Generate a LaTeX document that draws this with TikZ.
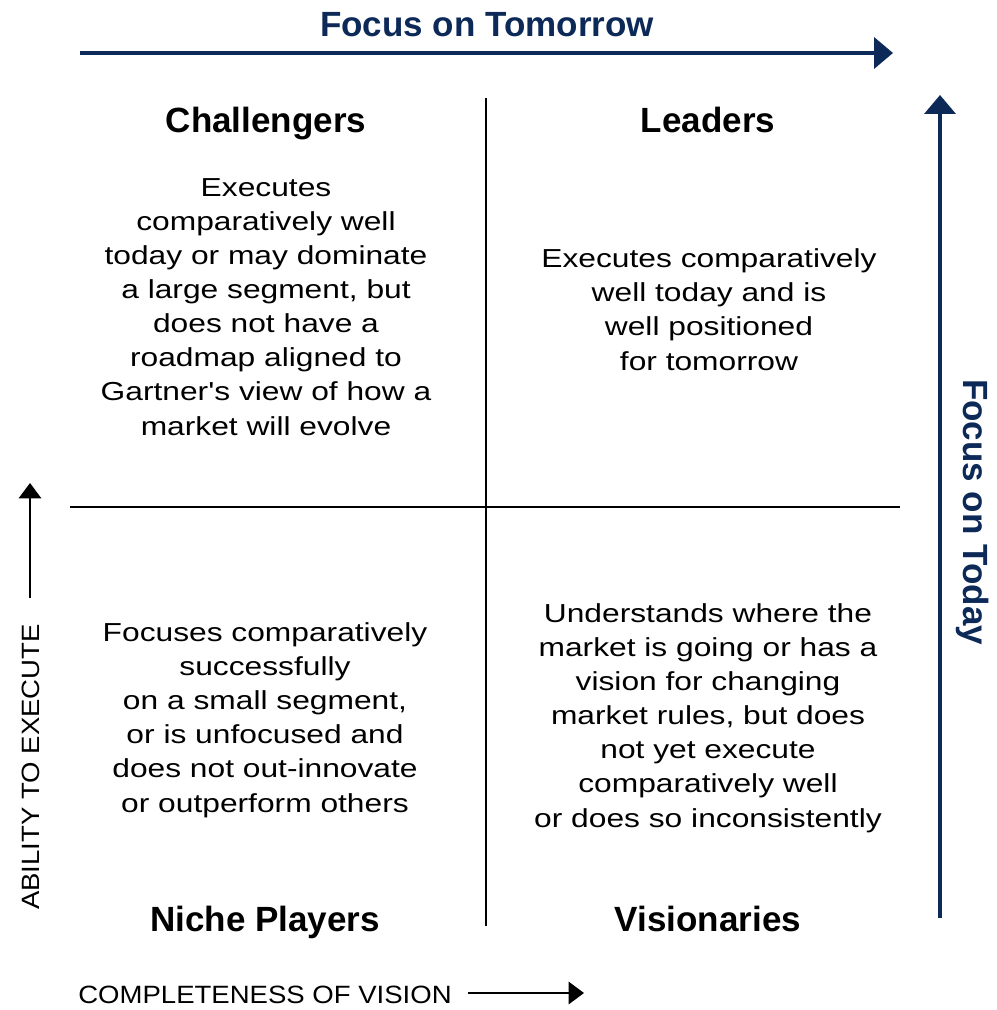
\documentclass[tikz,border=0pt]{standalone}
\usepackage{fontspec}
\setmainfont{Liberation Sans}
\newfontfamily\bodyfont[FakeStretch=1.22]{Liberation Sans}
\newfontfamily\axisfont[FakeStretch=1.1]{Liberation Sans}
\usetikzlibrary{arrows.meta}
\definecolor{navy}{RGB}{12,41,87}

\begin{document}
\begin{tikzpicture}[x=0.025cm,y=-0.025cm]
\tikzstyle{every node}+=[inner sep=0pt]
\tikzstyle{quadtitle}=[font=\fontsize{24.9}{30}\selectfont\bfseries, anchor=base]
\tikzstyle{quadtext}=[font=\bodyfont\fontsize{18.5}{24.2}\selectfont, align=center, anchor=base]
\tikzstyle{focus}=[font=\fontsize{24.9}{30}\selectfont\bfseries, text=navy, anchor=base]
\tikzstyle{axislabel}=[font=\axisfont\fontsize{17.8}{22}\selectfont, anchor=base]
\tikzstyle{navyarrow}=[navy, line width=2.85pt, -{Triangle[length=13.5pt,width=22pt]}]
\tikzstyle{blackarrow}=[black, line width=1.4pt, -{Triangle[length=11pt,width=16pt]}]
\useasboundingbox (0,0) rectangle (996,1010);
% axes
\coordinate (tomorrowS) at (80,53);
\coordinate (tomorrowE) at (893,53);
\coordinate (todayS) at (940,918);
\coordinate (todayE) at (940,95);
\coordinate (executeS) at (30,598);
\coordinate (executeE) at (30,483);
\coordinate (visionS) at (468,993);
\coordinate (visionE) at (584,993);
\node[focus] (tomorrow) at (487,37) {Focus on Tomorrow};
\node[focus, rotate=-90] (today) at (963,512) {Focus on Today};
\node[axislabel, rotate=90] (execute) at (39,767) {ABILITY TO EXECUTE};
\node[axislabel] (vision) at (265,1003) {COMPLETENESS OF VISION};
\draw [navyarrow] (tomorrowS) -- (tomorrowE);
\draw [navyarrow] (todayS) -- (todayE);
\draw [blackarrow] (executeS) -- (executeE);
\draw [blackarrow] (visionS) -- (visionE);
% quadrant lines
\coordinate (vtop) at (486,98);
\coordinate (vbot) at (486,926);
\coordinate (hleft) at (70,507);
\coordinate (hright) at (900,507);
\draw [black, line width=1.4pt] (vtop) -- (vbot);
\draw [black, line width=1.4pt] (hleft) -- (hright);
% quadrants (text nodes sit on their last line)
\node[quadtitle] (challengers) at (266,133) {Challengers};
\node[quadtitle] (leaders) at (708,133) {Leaders};
\node[quadtitle] (niche) at (265,931) {Niche Players};
\node[quadtitle] (visionaries) at (708,931) {Visionaries};
\node[quadtext] (challtext) at (266,435) {Executes\\comparatively well\\today or may dominate\\a large segment, but\\does not have a\\roadmap aligned to\\Gartner's view of how a\\market will evolve};
\node[quadtext] (leadtext) at (709,370) {Executes comparatively\\well today and is\\well positioned\\for tomorrow};
\node[quadtext] (nichetext) at (265,812) {Focuses comparatively\\successfully\\on a small segment,\\or is unfocused and\\does not out-innovate\\or outperform others};
\node[quadtext] (vistext) at (708,827) {Understands where the\\market is going or has a\\vision for changing\\market rules, but does\\not yet execute\\comparatively well\\or does so inconsistently};
\end{tikzpicture}
\end{document}
